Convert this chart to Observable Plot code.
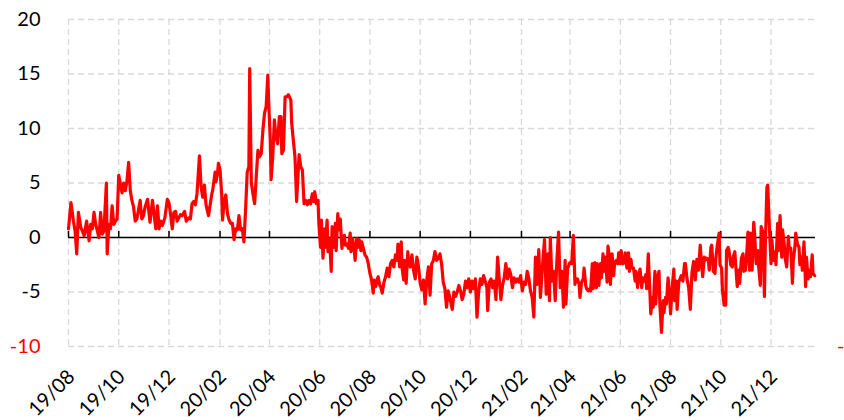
<!DOCTYPE html>
<html><head><meta charset="utf-8">
<script src="https://cdn.jsdelivr.net/npm/d3@7"></script>
<script src="https://cdn.jsdelivr.net/npm/@observablehq/plot@0.6"></script>
<style>
html,body{margin:0;padding:0;background:#fff;overflow:hidden}
#wrap{position:relative;width:844px;height:420px}
#rmark{position:absolute;left:837px;top:333px;font:20px Lato, sans-serif;color:#ff0000;line-height:24px}
</style></head><body>
<div id="wrap"><div id="chart"></div><span id="rmark">-</span></div>
<script>
const startDate = "2019-08-01";
const endDate = "2022-01-24";
const tickMonths = ["2019-08","2019-10","2019-12","2020-02","2020-04","2020-06","2020-08","2020-10","2020-12","2021-02","2021-04","2021-06","2021-08","2021-10","2021-12"];
const yTicks = [-10, -5, 0, 5, 10, 15, 20];
// days since 2019-08-01
const days = [
0,3,6,8,10,12,15,17,19,22,25,27,29,31,33,35,37,39,41,43,46,47,49,51,53,55,57,59,61,63,65,67,69,71,73,75,77,79,81,83,87,89,91,93,96,99,102,104,106,108,110,112,114,117,120,122,124,126,128,130,132,134,136,138,141,143,146,
148,150,152,154,156,159,161,163,165,167,170,171,174,175,178,179,181,182,184,186,187,189,191,193,195,197,199,201,203,205,207,209,211,213,215,217,219,220,222,224,226,228,230,232,234,236,238,240,242,243,245,246,248,250,252,254,256,258,259,261,263,265,267,270,271,273,275,277,280,282,284,286,288,290,292,294,296,298,
299,301,303,304,306,307,309,311,312,314,315,317,319,320,322,324,325,327,328,330,332,333,335,336,338,340,342,343,345,347,348,350,351,353,355,356,358,360,362,364,366,368,370,371,373,375,376,378,379,381,383,385,387,389,391,393,395,397,399,400,402,404,405,407,408,410,412,413,415,417,419,421,423,425,427,429,431,433,435,437,439,441,443,445,447,449,
451,453,455,457,459,461,463,466,468,470,472,474,476,478,480,482,484,486,488,490,492,494,496,498,500,502,504,506,508,509,511,513,515,517,519,521,523,525,527,529,531,533,535,537,539,541,543,545,547,549,551,553,555,557,559,561,563,565,567,569,571,573,576,578,580,582,584,585,587,589,591,593,595,597,599,601,
603,604,606,608,609,611,613,615,616,618,620,621,623,625,626,628,629,631,633,634,636,637,639,641,642,644,646,647,649,650,652,654,655,657,658,660,662,663,665,667,668,670,671,673,675,676,678,680,681,683,684,686,688,689,691,692,694,696,697,699,701,702,704,705,707,709,710,712,713,715,717,718,720,722,723,725,726,728,730,731,733,735,736,738,739,741,743,744,746,748,749,751,753,755,
757,759,761,763,765,
767,769,770,772,773,775,777,778,780,781,783,785,786,788,790,791,793,794,796,798,799,801,802,804,806,807,809,811,812,814,815,817,819,820,822,824,825,827,828,830,832,833,835,837,838,840,841,843,845,846,848,849,851,853,854,856,858,859,861,862,864,866,867,869,870,872,874,875,877,879,880,882,883,885,887,888,890,891,893,895,896,898,900,901,903,904,906
];
const values = [
0.8,3.2,1.5,0.6,-1.5,2.3,0.9,0.6,0.15,1.5,-0.3,1.2,0.8,2.3,1.2,0.6,0,2.3,0.3,0.6,5.0,-1.5,1.2,0.8,2.9,1.2,1.5,1.7,5.7,4.9,4.1,5.0,4.3,5.2,6.9,4.3,3.4,2.8,1.5,1.7,3.4,1.7,2.0,2.8,3.5,1.4,3.4,2.1,0.8,2.9,0.8,1.5,1.1,1.8,3.5,3.2,2.1,0.8,2.3,2.4,1.5,1.8,2.1,2.0,2.4,1.5,1.8,
1.7,3.1,3.3,3.0,4.0,7.5,4.6,3.7,4.8,3.0,2.0,2.5,4.0,4.3,6.0,5.1,5.9,6.8,6.2,4.0,1.6,3.3,3.9,2.2,1.6,1.3,1.3,-0.2,0.8,0.7,2.0,0.7,0.8,-0.4,2.5,6.0,6.5,15.5,5.0,4.0,3.1,5.6,8.0,7.4,7.7,9.8,11.4,12.0,14.9,12.6,8.9,5.3,7.4,10.8,9.2,8.6,11.1,11.1,7.7,8.0,12.9,12.9,13.1,12.6,10.5,8.9,7.4,3.3,7.6,6.5,6.2,3.1,3.4,3.0,3.4,3.1,4.0,3.3,
4.2,3.1,3.4,1.3,-0.9,1.6,-1.9,0.8,-0.9,1.6,-1.3,-0.2,-3.1,1.0,-0.9,1.3,-1.2,2.2,0.7,1.7,-1.0,-0.2,0.2,-0.7,-0.6,-1.0,0.4,-1.3,-0.1,-1.2,-2.1,-0.1,-0.9,-0.2,-1.2,-0.4,-1.0,-1.6,-1.8,-2.4,-3.3,-3.9,-5.1,-3.9,-4.5,-3.8,-3.6,-4.4,-4.5,-5.1,-4.1,-3.6,-2.8,-3.6,-2.4,-2.1,-2.7,-1.6,-2.1,-0.6,-2.7,-0.4,-2.8,-3.9,-2.1,-4.2,-1.3,-2.2,-2.7,-1.6,-3.0,-3.8,-1.8,-2.7,-4.2,-4.8,-3.9,-6.1,-3.9,-2.7,-5.3,-2.4,-2.1,-1.3,-2.1,-1.9,
-1.5,-2.4,-4.1,-4.7,-6.4,-4.9,-5.5,-6.6,-5.0,-5.4,-5.0,-4.4,-4.9,-5.7,-5.2,-4.0,-4.6,-3.8,-5.0,-4.0,-4.7,-3.8,-7.3,-5.0,-3.8,-4.3,-3.5,-4.0,-4.6,-6.7,-4.1,-3.8,-4.6,-4.0,-5.7,-1.8,-3.8,-5.7,-4.4,-3.7,-2.4,-3.8,-2.9,-3.4,-4.6,-3.7,-4.1,-3.8,-4.1,-3.5,-4.9,-4.1,-4.3,-3.1,-3.8,-4.9,-5.5,-7.3,-1.8,-4.3,-1.1,-5.5,-2.1,-0.2,-5.2,-1.5,-5.8,0.0,-4.0,-3.1,-5.8,-2.1,0.5,-4.6,-3.1,-6.4,
-2.1,-6.1,-2.9,-2.4,-2.3,-2.4,0.2,-4.3,-3.8,-3.8,-4.3,-5.5,-4.1,-3.8,-2.8,-4.4,-4.7,-4.9,-4.7,-4.9,-2.4,-4.7,-2.3,-4.6,-2.4,-4.4,-2.4,-3.7,-1.5,-3.1,-1.8,-4.1,-0.8,-1.8,-4.3,-1.5,-3.5,-2.4,-2.1,-2.4,-1.4,-2.4,-1.2,-2.4,-2.3,-1.4,-2.8,-1.4,-3.1,-2.0,-2.8,-2.8,-4.0,-3.1,-4.6,-3.7,-2.9,-4.6,-3.7,-4.0,-3.4,-4.7,-1.5,-3.4,-7.0,-5.5,-6.4,-3.1,-6.1,-3.7,-3.1,-6.1,-8.7,-5.8,-6.9,-5.5,-6.1,-3.7,-5.5,-7.0,-4.6,-2.9,-5.8,-4.0,-6.6,-4.1,-3.7,-3.5,-4.0,-2.4,-2.4,-3.8,-4.6,-6.6,
-3.2,-2.2,-3.9,-2.0,-3.0,
-0.7,-2.7,-3.6,-1.8,-2.1,-1.9,-2.1,-3.0,-0.9,-0.7,-3.1,-3.3,-1.9,-0.6,0.4,-2.5,-2.8,-4.8,-6.2,-6.2,-1.2,-0.9,-1.2,-2.5,-2.7,-1.8,-1.3,-3.5,-4.5,-3.0,-4.2,-1.9,-1.5,-3.1,-3.0,-0.9,0.5,-3.0,0.4,-3.0,1.4,0.4,-2.4,-1.2,-2.7,-4.4,1.0,0.5,-5.4,-0.9,4.6,4.8,1.0,-2.4,-0.2,-2.1,-1.3,-2.5,1.3,-1.2,2.0,-1.8,0.7,-0.6,-1.8,-2.7,0.1,-0.9,-1.0,-4.2,-2.1,-0.9,0.4,-0.6,-0.9,-2.5,-1.8,-3.0,-0.4,-4.5,-1.8,-3.8,-3.0,-3.6,-1.6,-3.3,-3.5
];

const start = new Date(startDate);
const data = days.map((d, i) => ({date: d3.utcDay.offset(start, d), value: values[i]}));
const ticks = tickMonths.map(m => new Date(m + "-01"));
const grid = {stroke: "#d9d9d9", strokeWidth: 1.3, strokeDasharray: "6,4"};

const chart = Plot.plot({
  width: 844, height: 420,
  marginLeft: 68, marginRight: 29, marginTop: 19, marginBottom: 74,
  style: {fontFamily: "Lato, sans-serif", fontSize: "20px", color: "#000", background: "#fff", overflow: "visible"},
  x: {type: "utc", domain: [start, new Date(endDate)], label: null},
  y: {domain: [-10, 20], label: null},
  marks: [
    Plot.ruleY(yTicks, grid),
    Plot.ruleX(ticks, grid),
    Plot.ruleY([0], {stroke: "#000", strokeWidth: 1.5}),
    Plot.ruleX(ticks, {y1: 0, y2: 0, insetTop: -6, stroke: "#000", strokeWidth: 1.5}),
    Plot.line(data, {x: "date", y: "value", stroke: "#ff0000", strokeWidth: 3.2, strokeLinejoin: "round"}),
    Plot.axisY(yTicks, {tickSize: 0, tickPadding: 28, tickFormat: d => String(d), label: null}),
    Plot.axisX(ticks, {tickSize: 0, tickPadding: 27, dx: 3, tickRotate: -45, tickFormat: d3.utcFormat("%y/%m"), label: null})
  ]
});
document.getElementById("chart").appendChild(chart);
d3.select(chart).selectAll('g[aria-label="y-axis tick label"] text')
  .attr("fill", function() { return this.textContent === "-10" ? "#ff0000" : null; });
</script>
</body></html>
